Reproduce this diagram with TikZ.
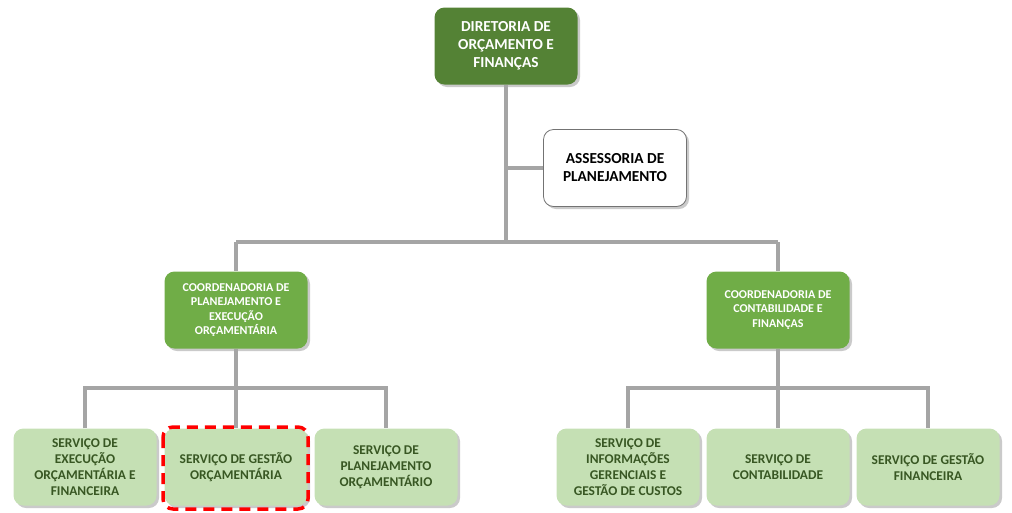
\documentclass[tikz,border=0pt]{standalone}
\usepackage{fontspec}
\setmainfont{Carlito}
\usetikzlibrary{shadows}
\definecolor{dkgreen}{HTML}{548235}
\definecolor{mdgreen}{HTML}{70AD47}
\definecolor{ltgreen}{HTML}{C5E0B4}
\definecolor{txtgreen}{HTML}{385723}
\definecolor{linegray}{HTML}{A5A5A5}
\tikzset{
  box/.style={rounded corners=10pt, minimum width=143pt, minimum height=77pt, align=center, font=\bfseries,
    drop shadow={shadow xshift=2.5pt, shadow yshift=-2.5pt, opacity=0.35, fill=black!60}},
  topbox/.style={box, fill=dkgreen, text=white, font=\bfseries\fontsize{15.3}{18}\selectfont},
  assbox/.style={box, fill=white, draw=black!55, line width=0.8pt, text=black, font=\bfseries\fontsize{15.3}{18}\selectfont},
  coordbox/.style={box, fill=mdgreen, text=white, font=\bfseries\fontsize{12}{14.2}\selectfont},
  svcbox/.style={box, fill=ltgreen, text=txtgreen, font=\bfseries\fontsize{13.4}{16.2}\selectfont},
  conn/.style={draw=linegray, line width=3.5pt},
  hilite/.style={draw=red, line width=3.5pt, dash pattern=on 11pt off 7pt, rounded corners=10pt}
}
\begin{document}
\begin{tikzpicture}[x=1pt,y=-1pt]
\useasboundingbox (0,0) rectangle (1012,512);
\coordinate (trunkA) at (506,168);
\coordinate (trunkB) at (506,242);
\coordinate (hL) at (236,242);
\coordinate (hR) at (778,242);
\coordinate (lbar) at (236,388);
\coordinate (rbar) at (778,388);

\node[topbox] (dir) at (506,46) {DIRETORIA DE\\ORÇAMENTO E\\FINANÇAS};
\node[assbox] (ass) at (615,168) {ASSESSORIA DE\\PLANEJAMENTO};
\node[coordbox] (cpe) at (236,310) {COORDENADORIA DE\\PLANEJAMENTO E\\EXECUÇÃO\\ORÇAMENTÁRIA};
\node[coordbox] (ccf) at (778,310) {COORDENADORIA DE\\CONTABILIDADE E\\FINANÇAS};
\node[svcbox] (s1) at (85,467) {SERVIÇO DE\\EXECUÇÃO\\ORÇAMENTÁRIA E\\FINANCEIRA};
\node[svcbox] (s2) at (236,467) {SERVIÇO DE GESTÃO\\ORÇAMENTÁRIA};
\node[svcbox] (s3) at (386,467) {SERVIÇO DE\\PLANEJAMENTO\\ORÇAMENTÁRIO};
\node[svcbox] (s4) at (628,467) {SERVIÇO DE\\INFORMAÇÕES\\GERENCIAIS E\\GESTÃO DE CUSTOS};
\node[svcbox] (s5) at (778,467) {SERVIÇO DE\\CONTABILIDADE};
\node[svcbox] (s6) at (928,467) {SERVIÇO DE GESTÃO\\FINANCEIRA};

\draw[conn] (dir.south) -- (trunkB);
\draw[conn] (trunkA) -- (ass.west);
\draw[conn] (hL) -- (hR);
\draw[conn] (hL) -- (cpe.north);
\draw[conn] (hR) -- (ccf.north);
\draw[conn] (cpe.south) -- (lbar);
\draw[conn] (ccf.south) -- (rbar);
\draw[conn] (s1.north) |- (lbar) -| (s3.north);
\draw[conn] (lbar) -- (s2.north);
\draw[conn] (s4.north) |- (rbar) -| (s6.north);
\draw[conn] (rbar) -- (s5.north);

\draw[hilite] (163,427) rectangle (308,509);
\end{tikzpicture}
\end{document}
